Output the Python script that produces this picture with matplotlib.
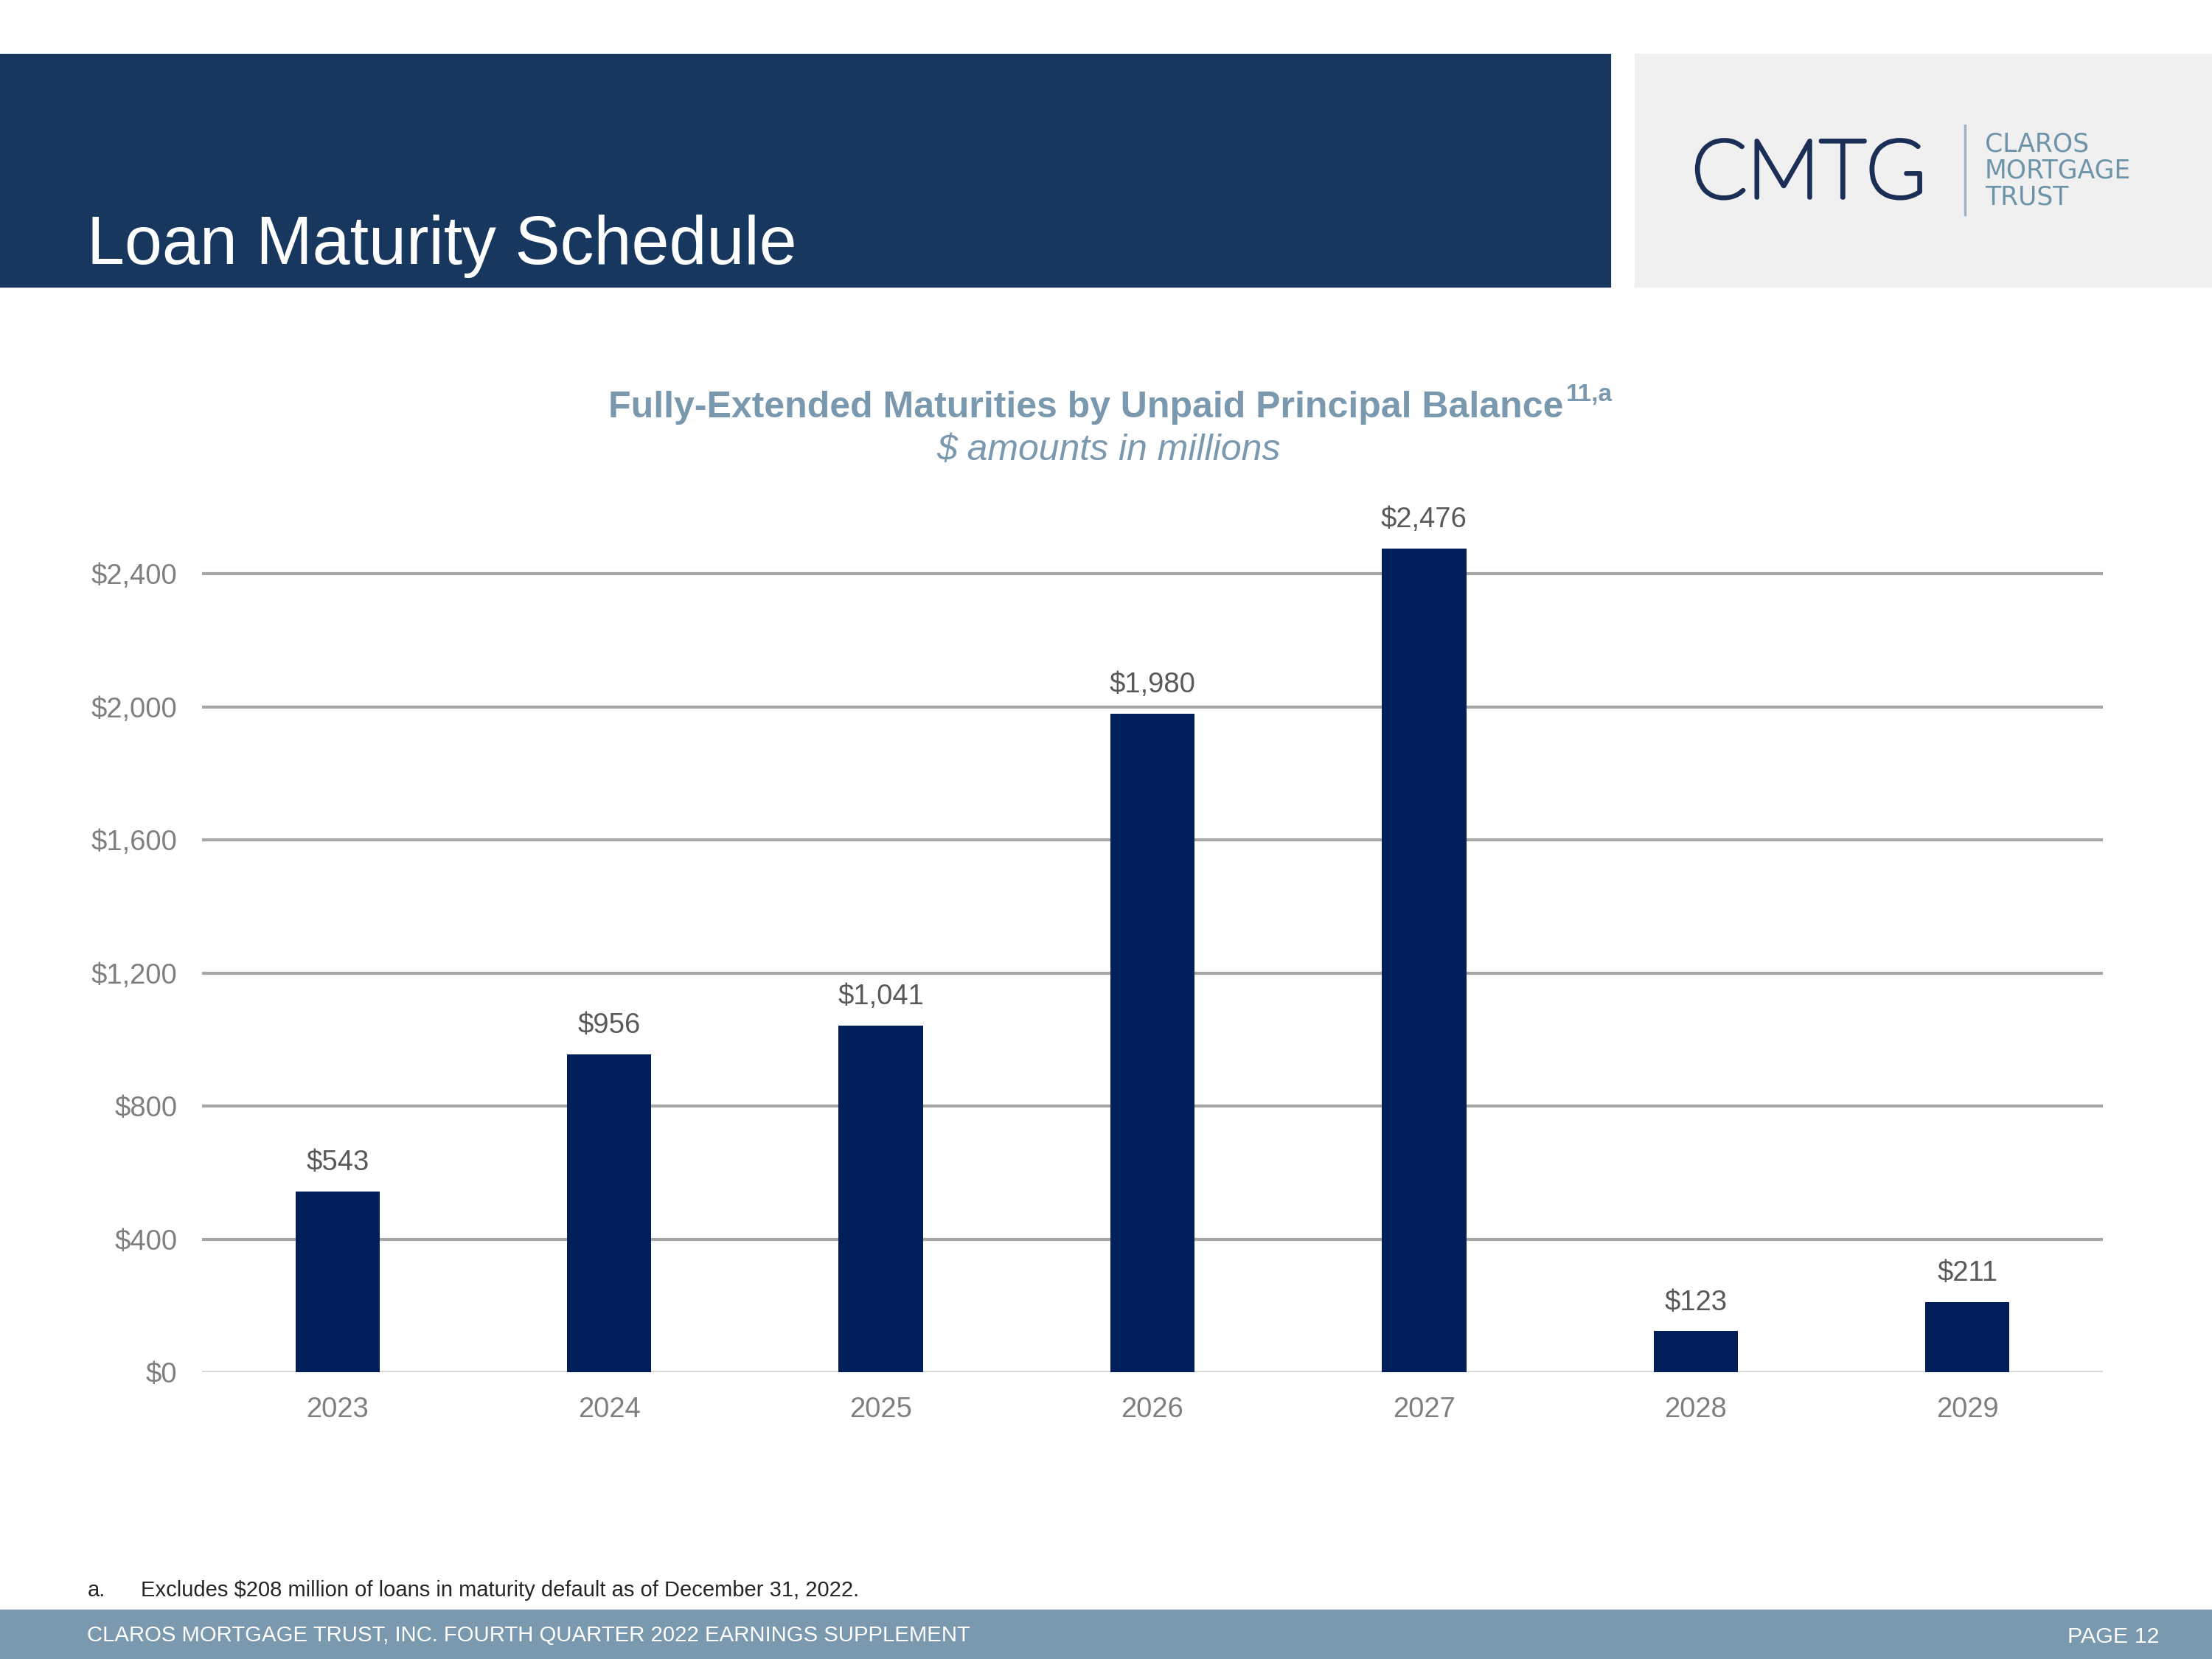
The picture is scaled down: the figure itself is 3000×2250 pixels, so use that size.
import matplotlib
matplotlib.use("Agg")
from matplotlib import pyplot as plt
from matplotlib import patheffects
from matplotlib.patches import Rectangle
from matplotlib.ticker import FuncFormatter
import numpy as np

# Данные
years = ["2023", "2024", "2025", "2026", "2027", "2028", "2029"]
balances = [543, 956, 1041, 1980, 2476, 123, 211]
y_ticks = [0, 400, 800, 1200, 1600, 2000, 2400]

NAVY = "#17375E"
BAR = "#001F5B"
STEEL = "#7A99AF"

plt.rcParams["font.family"] = ["Liberation Sans", "DejaVu Sans"]

fig = plt.figure(figsize=(10, 7.5), dpi=300)

# Шапка
fig.patches.append(Rectangle((0, 1 - 388 / 2250), 2183 / 3000, 313 / 2250,
                             transform=fig.transFigure, color=NAVY, zorder=0))
fig.patches.append(Rectangle((2219 / 3000, 1 - 388 / 2250), 781 / 3000, 313 / 2250,
                             transform=fig.transFigure, color="#F0F0F0", zorder=0))
fig.text(0.0395, 1 - 358 / 2250, "Loan Maturity Schedule", color="white",
         fontsize=22, va="baseline", ha="left")

# Логотип
fig.text(2294 / 3000, 1 - 268 / 2250, "CMTG", color="#1B2E55", fontsize=26.5,
         family=["Lato", "DejaVu Sans"], fontweight="light", va="baseline", ha="left",
         path_effects=[patheffects.withStroke(linewidth=1.3, foreground="#1B2E55")])
fig.add_artist(plt.Line2D([2665 / 3000, 2665 / 3000], [1 - 170 / 2250, 1 - 291 / 2250],
                          transform=fig.transFigure, color="#9DB3C2", lw=0.8))
for i, word in enumerate(["CLAROS", "MORTGAGE", "TRUST"]):
    fig.text(2692 / 3000, 1 - (195 + i * 36) / 2250, word, color="#6E94A9",
             fontsize=8.3, family=["DejaVu Sans"], va="center", ha="left")

# Заголовок графика
title = fig.text(0.491, 0.7484, "Fully-Extended Maturities by Unpaid Principal Balance",
                 color=STEEL, fontsize=12, fontweight="bold", ha="center", va="baseline")
fig.canvas.draw()
bb = title.get_window_extent(renderer=fig.canvas.get_renderer())
fig.text(bb.x1 / fig.bbox.width + 0.001, 0.7484 + 0.010, "11,a", color=STEEL,
         fontsize=8, fontweight="bold", ha="left", va="baseline")
fig.text(0.5013, 0.7227, "$ amounts in millions", color=STEEL, fontsize=12,
         style="italic", ha="center", va="baseline")

# Столбцы
ax = fig.add_axes([0.0912, 0.1729, 0.8596, 0.5414])
x = np.arange(len(years))
bars = ax.bar(x, balances, width=0.31, color=BAR, zorder=3)
for rect, v in zip(bars, balances):
    ax.annotate(f"${v:,}", (rect.get_x() + rect.get_width() / 2, v),
                xytext=(0, 5), textcoords="offset points", ha="center", va="bottom",
                fontsize=9.2, color="#595959")

ax.set_xlim(-0.5, len(years) - 0.5)
ax.set_ylim(0, 2700)
ax.set_xticks(x)
ax.set_xticklabels(years)
ax.set_yticks(y_ticks)
ax.yaxis.set_major_formatter(FuncFormatter(lambda v, _: f"${int(v):,}"))
ax.tick_params(axis="both", length=0, labelsize=9.2, labelcolor="#7F7F7F")
ax.tick_params(axis="y", pad=8)
ax.tick_params(axis="x", pad=8)
for s in ax.spines.values():
    s.set_visible(False)
ax.grid(axis="y", color="#A6A6A6", lw=1.0, zorder=0)
ax.axhline(0, color="#D9D9D9", lw=1.2, zorder=1)
ax.yaxis.get_gridlines()[0].set_visible(False)

# Сноска и подвал
fig.text(0.0395, 1 - 2157 / 2250, "a.", color="#262626", fontsize=7.0, va="center")
fig.text(0.0638, 1 - 2157 / 2250,
         "Excludes $208 million of loans in maturity default as of December 31, 2022.",
         color="#262626", fontsize=7.0, va="center")
fig.patches.append(Rectangle((0, 0), 1, 65 / 2250, transform=fig.transFigure,
                             color=STEEL, zorder=0))
fig.text(0.0395, 1 - 2218 / 2250, "CLAROS MORTGAGE TRUST, INC. FOURTH QUARTER 2022 EARNINGS SUPPLEMENT",
         color="white", fontsize=7.05, va="center")
fig.text(0.976, 1 - 2220 / 2250, "PAGE 12", color="white", fontsize=7.3,
         va="center", ha="right")

fig.savefig("out.png", dpi=300)
